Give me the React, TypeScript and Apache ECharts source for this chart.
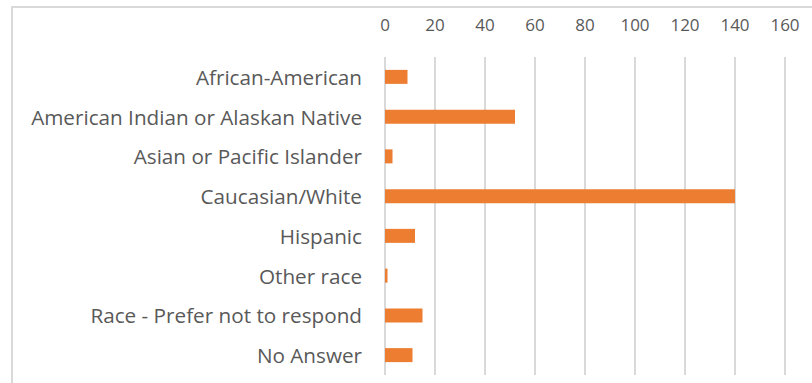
import React, { useEffect, useRef } from "react";
import * as echarts from "echarts";

const categories = [
  "African-American",
  "American Indian or Alaskan Native",
  "Asian or Pacific Islander",
  "Caucasian/White",
  "Hispanic",
  "Other race",
  "Race - Prefer not to respond",
  "No Answer",
];
const counts = [9, 52, 3, 140, 12, 1, 15, 11];

export default function App() {
  const ref = useRef<HTMLDivElement>(null);
  useEffect(() => {
    const chart = echarts.init(ref.current!, null, { renderer: "svg" });
    chart.setOption({
      animation: false,
      backgroundColor: "#ffffff",
      grid: { left: 385, right: 27, top: 57, bottom: 8, containLabel: false },
      graphic: [
        {
          type: "rect",
          shape: { x: 12, y: 7, width: 900, height: 500 },
          style: { fill: "none", stroke: "#d9d9d9", lineWidth: 2 },
          silent: true,
        },
      ],
      xAxis: {
        type: "value",
        position: "top",
        min: 0,
        max: 160,
        interval: 20,
        axisLine: { show: false },
        axisTick: { show: false },
        axisLabel: {
          color: "#595959",
          fontSize: 17,
          fontFamily: "Open Sans",
          margin: 24,
        },
        splitLine: { show: true, lineStyle: { color: "#d9d9d9", width: 2 } },
      },
      yAxis: {
        type: "category",
        data: categories,
        inverse: true,
        axisLine: { show: false },
        axisTick: { show: false },
        axisLabel: {
          color: "#595959",
          fontSize: 20.7,
          fontFamily: "Open Sans",
          margin: 23,
        },
      },
      series: [
        {
          type: "bar",
          data: counts,
          barWidth: 14,
          itemStyle: { color: "#ED7D31" },
        },
      ],
    });
    return () => chart.dispose();
  }, []);
  return (
    <div
      ref={ref}
      style={{ position: "fixed", left: 0, top: 0, width: 812, height: 383 }}
    />
  );
}
